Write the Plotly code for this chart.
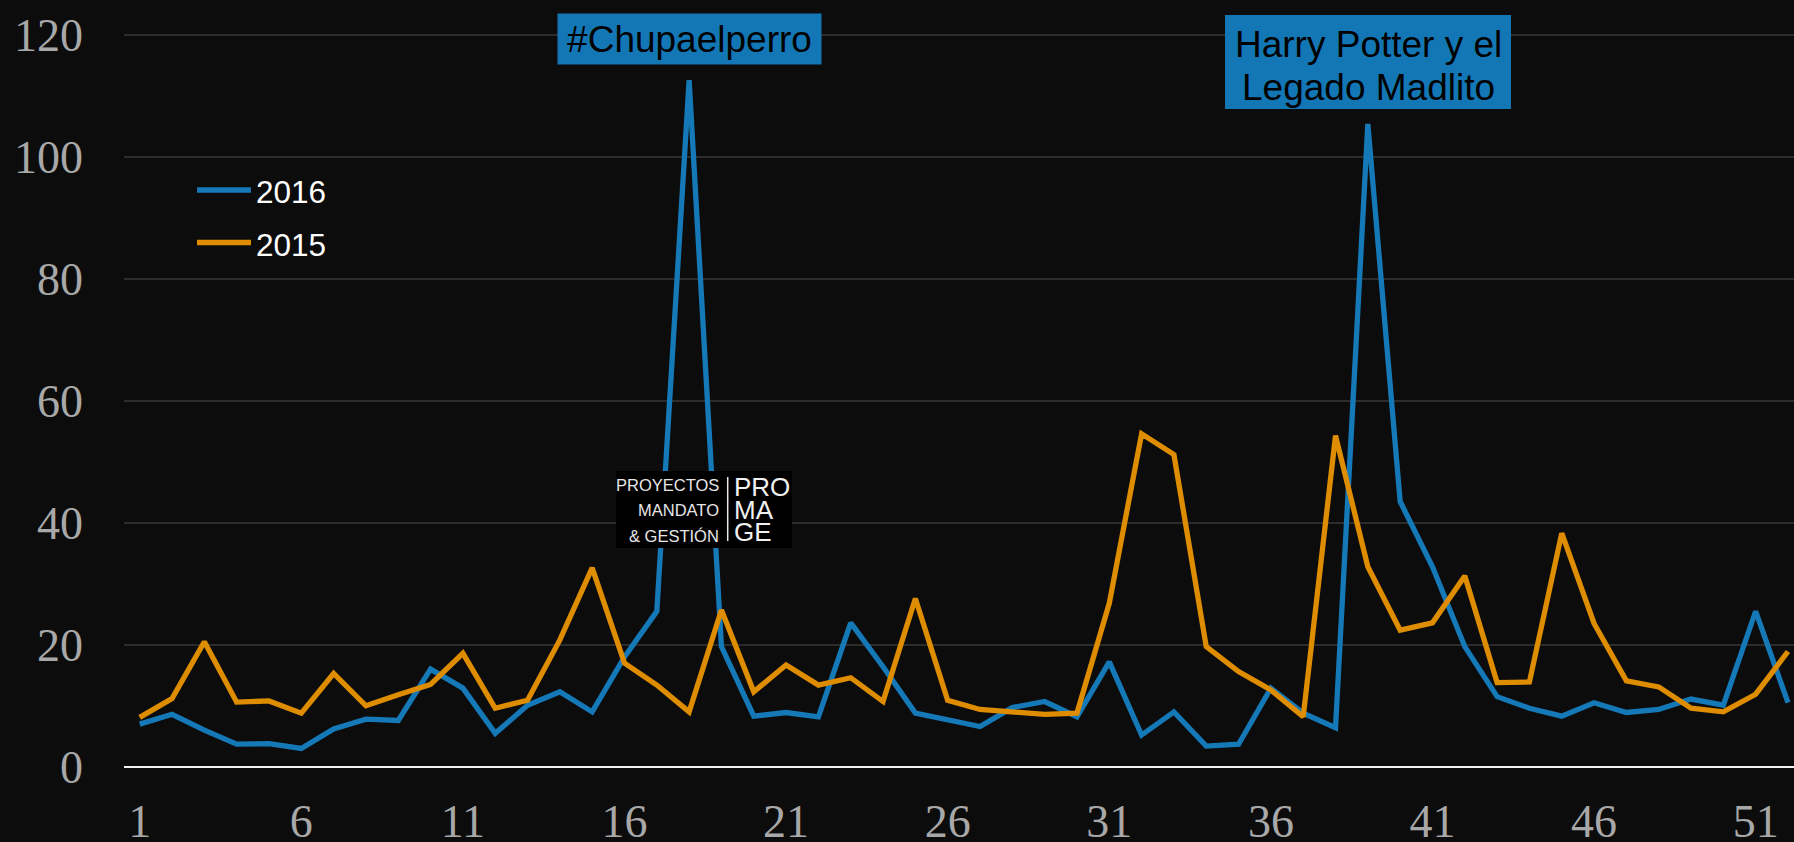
import plotly.graph_objects as go

# ---------------- data ----------------
weeks = list(range(1, 53))
y2016 = [7.0, 8.6, 6.0, 3.7, 3.8, 3.0, 6.2, 7.8, 7.6, 16.0, 12.9, 5.5, 10.1, 12.3, 9.0,
         18.0, 25.5, 112.6, 19.7, 8.3, 8.9, 8.2, 23.6, 16.4, 8.8, 7.8, 6.6, 9.7, 10.7, 8.2,
         17.2, 5.2, 9.0, 3.4, 3.7, 12.9, 8.8, 6.4, 105.4, 43.5, 32.8, 19.7, 11.5, 9.6,
         8.3, 10.5, 8.9, 9.4, 11.1, 10.1, 25.5, 10.5]
y2015 = [8.1, 11.2, 20.5, 10.6, 10.8, 8.8, 15.3, 10.0, 11.8, 13.5, 18.6, 9.6, 10.9, 20.8, 32.6,
         17.0, 13.4, 9.0, 25.7, 12.3, 16.7, 13.4, 14.6, 10.7, 27.6, 10.9, 9.4, 8.9, 8.6, 8.8,
         26.8, 54.6, 51.2, 19.7, 15.6, 12.6, 8.2, 54.3, 32.8, 22.4, 23.6, 31.3, 13.8, 13.9,
         38.3, 23.5, 14.1, 13.1, 9.6, 9.0, 11.9, 18.9]
x_tickvals = [1, 6, 11, 16, 21, 26, 31, 36, 41, 46, 51]
y_tickvals = [0, 20, 40, 60, 80, 100, 120]
series_names = ["2016", "2015"]
ann1_text = "#Chupaelperro"
ann2_lines = ["Harry Potter y el", "Legado Madlito"]
logo_left = ["PROYECTOS", "MANDATO", "&amp; GESTIÓN"]
logo_right = ["PRO", "MA", "GE"]

# ---------------- style ----------------
W, H = 1794, 842
ML, MR, MT, MB = 124, 0, 2, 74
BG = "#0c0c0c"
BLUE = "#1579b8"
ORANGE = "#de8c00"
BOXBLUE = "#1477b5"
GRID = "#2c2c2c"
TICKC = "#a8a8a8"
LW = 5.3
SANS = "Liberation Sans, Arial"
SERIF = "Liberation Serif, Times New Roman, serif"

fig = go.Figure()
fig.add_trace(go.Scatter(x=weeks, y=y2016, name=series_names[0], mode="lines",
                         line=dict(color=BLUE, width=LW), showlegend=False))
fig.add_trace(go.Scatter(x=weeks, y=y2015, name=series_names[1], mode="lines",
                         line=dict(color=ORANGE, width=LW), showlegend=False))

def px_x(px):
    return (px - ML) / (W - ML - MR)

def px_y(py):
    return (H - MB - py) / (H - MT - MB)

annotations = []
shapes = []

# "#Chupaelperro" box
annotations.append(dict(x=px_x(689), y=px_y(39.2), xref="paper", yref="paper", text=ann1_text,
                        showarrow=False, font=dict(family=SANS, size=37, color="#000000"),
                        bgcolor=BOXBLUE, width=263, height=50, align="center",
                        xanchor="center", yanchor="middle", borderpad=0))
# "Harry Potter" box
shapes.append(dict(type="rect", xref="paper", yref="paper", x0=px_x(1225), x1=px_x(1511),
                   y0=px_y(109), y1=px_y(15), fillcolor=BOXBLUE, line=dict(width=0), layer="above"))
for txt, cy in zip(ann2_lines, [44, 87]):
    annotations.append(dict(x=px_x(1368), y=px_y(cy), xref="paper", yref="paper", text=txt,
                            showarrow=False, xanchor="center", yanchor="middle",
                            font=dict(family=SANS, size=37, color="#000000")))

# Legend (drawn manually so the sample lines keep their long style)
for name, col, cy in zip(series_names, [BLUE, ORANGE], [190, 242.5]):
    shapes.append(dict(type="line", xref="paper", yref="paper", x0=px_x(197), x1=px_x(251),
                       y0=px_y(cy), y1=px_y(cy), line=dict(color=col, width=LW), layer="above"))
    annotations.append(dict(x=px_x(254), y=px_y(cy + 2), xref="paper", yref="paper", text=name,
                            showarrow=False, xanchor="left", yanchor="middle",
                            font=dict(family=SANS, size=31.5, color="#ffffff")))

# Logo block
shapes.append(dict(type="rect", xref="paper", yref="paper", x0=px_x(616), x1=px_x(792),
                   y0=px_y(548), y1=px_y(471), fillcolor="#000000", line=dict(width=0), layer="above"))
shapes.append(dict(type="line", xref="paper", yref="paper", x0=px_x(727.7), x1=px_x(727.7),
                   y0=px_y(541), y1=px_y(477), line=dict(color="#e8e8e8", width=1.5), layer="above"))
for txt, cy in zip(logo_left, [485, 510, 535.5]):
    annotations.append(dict(x=px_x(721), y=px_y(cy), xref="paper", yref="paper", text=txt,
                            showarrow=False, xanchor="right", yanchor="middle",
                            font=dict(family=SANS, size=16.5, color="#e6e6e6")))
for txt, cy in zip(logo_right, [487, 510, 532]):
    annotations.append(dict(x=px_x(732), y=px_y(cy), xref="paper", yref="paper", text=txt,
                            showarrow=False, xanchor="left", yanchor="middle",
                            font=dict(family=SANS, size=26, color="#f0f0f0")))

fig.update_layout(
    width=W, height=H,
    paper_bgcolor=BG, plot_bgcolor=BG,
    margin=dict(l=ML, r=MR, t=MT, b=MB, pad=0, autoexpand=False),
    showlegend=False,
    xaxis=dict(range=[0.514, 52.186], tickmode="array", tickvals=x_tickvals,
               showgrid=False, zeroline=False, showline=False, ticks="", automargin=False,
               tickfont=dict(family=SERIF, size=46, color=TICKC),
               ticklabelstandoff=22),
    yaxis=dict(range=[-0.2, 125.4], tickmode="array", tickvals=y_tickvals,
               showgrid=True, gridcolor=GRID, gridwidth=1.5, automargin=False,
               zeroline=True, zerolinecolor="#f2f2f2", zerolinewidth=2,
               showline=False, ticks="",
               tickfont=dict(family=SERIF, size=46, color=TICKC),
               ticklabelstandoff=40),
    annotations=annotations,
    shapes=shapes,
)

fig.write_html("out.html", config={"displayModeBar": False})
with open("out.html", "r", encoding="utf-8") as f:
    html = f.read()
html = html.replace("<body>", '<body style="margin:0;overflow:hidden;">', 1)
with open("out.html", "w", encoding="utf-8") as f:
    f.write(html)
